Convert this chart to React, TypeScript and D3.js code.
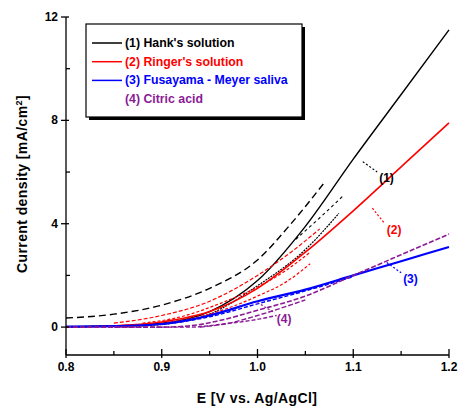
import * as d3 from "d3";

// DATA
// potential E [V vs. Ag/AgCl] vs current density [mA/cm2]
const hankMain: [number, number][] = [[0.8, 0.02], [0.85, 0.05], [0.9, 0.15], [0.95, 0.6], [1.0, 1.8], [1.05, 3.9], [1.1, 6.5], [1.15, 9.0], [1.2, 11.5]];
const hankRun2: [number, number][] = [[0.8, 0.35], [0.85, 0.5], [0.9, 0.85], [0.95, 1.5], [1.0, 2.6], [1.035, 4.0], [1.07, 5.6]];
const hankRun3: [number, number][] = [[0.86, 0.02], [0.9, 0.1], [0.95, 0.5], [1.0, 1.6], [1.05, 3.0], [1.085, 4.4]];
const hankRun4: [number, number][] = [[1.04, 3.4], [1.07, 4.4], [1.09, 5.1]];

const ringerMain: [number, number][] = [[0.8, 0.0], [0.85, 0.05], [0.9, 0.2], [0.95, 0.6], [1.0, 1.5], [1.05, 2.9], [1.1, 4.5], [1.15, 6.2], [1.2, 7.9]];
const ringerRun2: [number, number][] = [[0.85, 0.15], [0.9, 0.45], [0.95, 1.0], [1.0, 2.0], [1.035, 2.9], [1.065, 3.8]];
const ringerRun3: [number, number][] = [[0.88, 0.15], [0.92, 0.4], [0.96, 0.9], [1.0, 1.55], [1.03, 2.2], [1.055, 2.9]];
const ringerRun4: [number, number][] = [[0.9, 0.15], [0.95, 0.5], [1.0, 1.2], [1.03, 1.75], [1.055, 2.45]];

const salivaMain: [number, number][] = [[0.8, 0.02], [0.85, 0.04], [0.9, 0.12], [0.95, 0.45], [1.0, 1.0], [1.05, 1.45], [1.1, 2.0], [1.15, 2.55], [1.2, 3.1]];
const salivaRun2: [number, number][] = [[0.9, 0.1], [0.95, 0.4], [1.0, 0.9], [1.05, 1.4], [1.1, 1.95]];

const citricMain: [number, number][] = [[0.8, 0.0], [0.9, 0.0], [0.93, 0.05], [0.96, 0.25], [1.0, 0.65], [1.05, 1.2], [1.1, 2.0], [1.15, 2.8], [1.2, 3.6]];
const citricRun2: [number, number][] = [[0.94, 0.0], [0.97, 0.15], [1.0, 0.45], [1.05, 1.05]];
const citricRun3: [number, number][] = [[0.85, 0.0], [0.93, 0.0], [0.96, 0.1], [1.0, 0.3], [1.02, 0.45]];

const legendLabels = ["(1) Hank's solution", "(2) Ringer's solution", "(3) Fusayama - Meyer saliva", "(4) Citric acid"];
const xTicks = [0.8, 0.9, 1.0, 1.1, 1.2];
const yTicks = [0, 4, 8, 12];
const xMinor = [0.85, 0.95, 1.05, 1.15];
const yMinor = [2, 6, 10];

// annotation labels: leader start, leader end (data units), label
const annotations = [
  { from: [1.11, 6.4], to: [1.125, 6.0], text: "(1)", color: "#000" },
  { from: [1.12, 4.6], to: [1.133, 4.0], text: "(2)", color: "#ff0000" },
  { from: [1.135, 2.5], to: [1.15, 2.1], text: "(3)", color: "#0000ff" },
  { from: [1.0, 0.95], to: [1.018, 0.55], text: "(4)", color: "#8b1a96" },
];

const COLORS = ["#000000", "#ff0000", "#0000ff", "#8b1a96"];

const curves = [
  { d: hankMain, c: 0, dash: null, w: 1.4 },
  { d: hankRun2, c: 0, dash: "7,4", w: 1.4 },
  { d: hankRun3, c: 0, dash: "2,1", w: 1.2 },
  { d: hankRun4, c: 0, dash: "3,3", w: 1.1 },
  { d: ringerMain, c: 1, dash: null, w: 1.6 },
  { d: ringerRun2, c: 1, dash: "4,2", w: 1.2 },
  { d: ringerRun3, c: 1, dash: "3,2", w: 1.2 },
  { d: ringerRun4, c: 1, dash: "3,2", w: 1.2 },
  { d: salivaMain, c: 2, dash: null, w: 2.2 },
  { d: salivaRun2, c: 2, dash: "4,2", w: 1.4 },
  { d: citricMain, c: 3, dash: "5,2", w: 1.6 },
  { d: citricRun2, c: 3, dash: "5,2", w: 1.4 },
  { d: citricRun3, c: 3, dash: "4,2", w: 1.4 },
];

const FONT = "'Liberation Sans', Arial, sans-serif";

export default function App() {
  const width = 458;
  const height = 411;
  const x = d3.scaleLinear([0.8, 1.2], [66, 449]);
  const y = d3.scaleLinear([-1.08, 12], [355, 17]);
  const line = d3.line<[number, number]>((d) => x(d[0]), (d) => y(d[1])).curve(d3.curveMonotoneX);
  const x0 = x(0.8);
  const yB = y(-1.08);

  return (
    <svg width={width} height={height} style={{ position: "absolute", left: 0, top: 0, background: "#fff" }} fontFamily={FONT} fontWeight="bold">
      {/* curves */}
      <g fill="none">
        {curves.map((cv, i) => (
          <path key={i} d={line(cv.d) ?? ""} stroke={COLORS[cv.c]} strokeWidth={cv.w} strokeDasharray={cv.dash ?? undefined} />
        ))}
      </g>

      {/* annotations */}
      {annotations.map((a, i) => (
        <g key={i}>
          <line x1={x(a.from[0])} y1={y(a.from[1])} x2={x(a.to[0])} y2={y(a.to[1])} stroke={a.color} strokeWidth={1.2} strokeDasharray="2,2" />
          <text x={x(a.to[0]) + 2} y={y(a.to[1]) + 10} fontSize={12} fill={a.color}>{a.text}</text>
        </g>
      ))}

      {/* axes */}
      <g stroke="#000" strokeWidth={1.3}>
        <line x1={x0} y1={y(12)} x2={x0} y2={yB} />
        <line x1={x0} y1={yB} x2={x(1.2)} y2={yB} />
        {xTicks.map((t) => <line key={t} x1={x(t)} x2={x(t)} y1={yB - 6} y2={yB + 3} />)}
        {xMinor.map((t) => <line key={t} x1={x(t)} x2={x(t)} y1={yB - 4} y2={yB} />)}
        {yTicks.map((t) => <line key={t} x1={x0 - 5} x2={x0 + 3} y1={y(t)} y2={y(t)} />)}
        {yMinor.map((t) => <line key={t} x1={x0} x2={x0 + 4} y1={y(t)} y2={y(t)} />)}
      </g>
      <g fontSize={12} fill="#000">
        {xTicks.map((t) => (
          <text key={t} x={x(t)} y={yB + 16} textAnchor="middle">{t.toFixed(1)}</text>
        ))}
        {yTicks.map((t) => (
          <text key={t} x={x0 - 8} y={y(t) + 4} textAnchor="end">{t}</text>
        ))}
      </g>
      <text x={257} y={403} textAnchor="middle" fontSize={14} letterSpacing={0.4}>E [V vs. Ag/AgCl]</text>
      <text transform={`translate(27,184) rotate(-90)`} textAnchor="middle" fontSize={14} letterSpacing={0.4}>
        Current density [mA/cm<tspan dy={-5} fontSize={9}>2</tspan><tspan dy={5}>]</tspan>
      </text>

      {/* legend */}
      <g>
        <rect x={89} y={27} width={216} height={93} fill="#000" />
        <rect x={86} y={24} width={216} height={93} fill="#fff" stroke="#000" strokeWidth={1.2} />
        {legendLabels.map((lab, i) => (
          <g key={lab} transform={`translate(0,${43 + i * 18.7})`}>
            {i < 3 && <line x1={92} x2={122} y1={0} y2={0} stroke={COLORS[i]} strokeWidth={1.5} />}
            <text x={125} y={4} fontSize={12.3} fill={COLORS[i]}>{lab}</text>
          </g>
        ))}
      </g>
    </svg>
  );
}
